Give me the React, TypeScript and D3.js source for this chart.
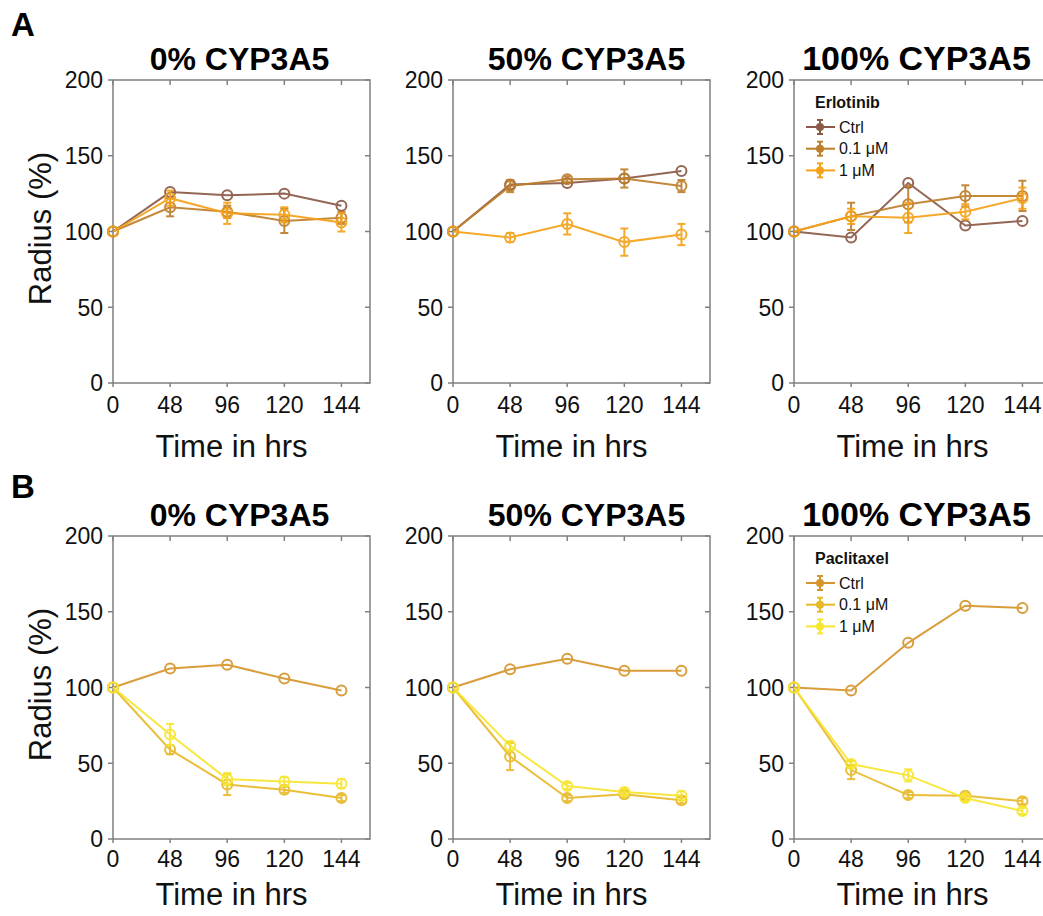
import * as d3 from "d3";

const timeLabels = ["0", "48", "96", "120", "144"];
const yTicks = [0, 50, 100, 150, 200];
const cypLabels = ["0% CYP3A5", "50% CYP3A5", "100% CYP3A5"];
const doseLabels = ["Ctrl", "0.1 μM", "1 μM"];

const erloColors = ["#8c5a46", "#be7e2a", "#f5a21a"];
const pacliColors = ["#d6952c", "#e8ba2a", "#f7e62e"];

// Erlotinib (row A): one array per CYP3A5 level, rows = Ctrl, 0.1, 1
const erlo0 = [
  [100, 126, 124, 125, 117],
  [100, 116, 113, 107, 109],
  [100, 122, 112, 111, 106],
];
const erlo0Err = [
  [0, 1, 1, 1, 1.5],
  [0, 6, 4, 8, 4],
  [0, 5, 7, 5, 6],
];
const erlo50 = [
  [100, 131, 132, 135, 140],
  [100, 130, 134.5, 135, 130],
  [100, 96, 105, 93, 98],
];
const erlo50Err = [
  [0, 1, 1, 1, 1],
  [0, 4, 2, 6, 4],
  [0, 3, 7, 9, 7],
];
const erlo100 = [
  [100, 96, 132, 104, 107],
  [100, 110, 118, 123.5, 123.5],
  [100, 110, 109, 113, 122],
];
const erlo100Err = [
  [0, 1, 1, 1, 1],
  [0, 9, 12, 7, 10],
  [0, 5, 10, 5, 7],
];

// Paclitaxel (row B)
const pacli0 = [
  [100, 112.5, 115, 106, 98],
  [100, 59, 36, 32.5, 27],
  [100, 69, 39.5, 38, 36.5],
];
const pacli0Err = [
  [0, 1, 1, 1, 1],
  [0, 3, 7, 2, 2],
  [0, 7, 4, 3, 3],
];
const pacli50 = [
  [100, 112, 119, 111, 111],
  [100, 54.5, 27, 29.5, 25.5],
  [100, 61.5, 35, 31, 28.5],
];
const pacli50Err = [
  [0, 1, 1, 1, 1],
  [0, 9, 2, 2, 2],
  [0, 3, 2, 2, 3],
];
const pacli100 = [
  [100, 98, 129.5, 154, 152.5],
  [100, 45.5, 29, 28.5, 25],
  [100, 49.5, 42, 27, 18.5],
];
const pacli100Err = [
  [0, 1, 1, 1, 1],
  [0, 6, 2, 2, 2],
  [0, 2, 4, 2, 2],
];

const FONT = "'Liberation Sans', Arial, sans-serif";
const AXIS = "#808080";
const PANEL_W = 257;
const PANEL_H = 303;
const LEFTS = [113, 453, 794];
const TOPS = [80, 536];
const TITLE_SHIFT = [-2, 5, -6];
const TITLE_SIZE = [32, 32, 34];
const TICK_OFF = [30, 28];
const XLABEL_OFF = [74, 66];

const xScale = d3
  .scalePoint<string>()
  .domain(timeLabels)
  .range([0, PANEL_W * (4 / 4.5)]);
const yScale = d3.scaleLinear().domain([0, 200]).range([PANEL_H, 0]);

type PanelProps = {
  left: number;
  top: number;
  col: number;
  row: number;
  title: string;
  values: number[][];
  errs: number[][];
  colors: string[];
  legendTitle?: string;
};

const Panel = ({ left, top, col, row, title, values, errs, colors, legendTitle }: PanelProps) => {
  const line = d3
    .line<number>()
    .x((_, i) => xScale(timeLabels[i]) ?? 0)
    .y((d) => yScale(d));

  return (
    <g transform={`translate(${left}, ${top})`}>
      {/* frame */}
      <rect x={0} y={0} width={PANEL_W} height={PANEL_H} fill="none" stroke={AXIS} strokeWidth={1.5} />
      {yTicks.map((t) => (
        <g key={t}>
          <line x1={-5} x2={0} y1={yScale(t)} y2={yScale(t)} stroke={AXIS} strokeWidth={1.5} />
          <line x1={PANEL_W - 5} x2={PANEL_W} y1={yScale(t)} y2={yScale(t)} stroke={AXIS} strokeWidth={1.5} />
          <text x={-10} y={yScale(t)} dy="0.36em" textAnchor="end" fontSize={23} fontFamily={FONT} fill="#111">
            {t}
          </text>
        </g>
      ))}
      {timeLabels.map((l) => (
        <g key={l}>
          <line x1={xScale(l)} x2={xScale(l)} y1={0} y2={5} stroke={AXIS} strokeWidth={1.5} />
          <line x1={xScale(l)} x2={xScale(l)} y1={PANEL_H} y2={PANEL_H + 4} stroke={AXIS} strokeWidth={1.5} />
          <text
            x={xScale(l)}
            y={PANEL_H + TICK_OFF[row]}
            textAnchor="middle"
            fontSize={23}
            fontFamily={FONT}
            fill="#111"
          >
            {l}
          </text>
        </g>
      ))}
      <text
        x={PANEL_W / 2 + TITLE_SHIFT[col]}
        y={-10}
        textAnchor="middle"
        fontSize={TITLE_SIZE[col]}
        fontWeight="bold"
        fontFamily={FONT}
        fill="#000"
      >
        {title}
      </text>
      <text
        x={PANEL_W / 2 - 10}
        y={PANEL_H + XLABEL_OFF[row]}
        textAnchor="middle"
        fontSize={31}
        fontFamily={FONT}
        fill="#111"
      >
        Time in hrs
      </text>

      {/* series */}
      {values.map((vals, s) => (
        <g key={s} stroke={colors[s]} strokeWidth={2} fill="none" opacity={0.92}>
          <path d={line(vals) ?? ""} />
          {vals.map((v, i) => {
            const x = xScale(timeLabels[i]) ?? 0;
            const e = errs[s][i];
            return (
              <g key={i}>
                {e > 1.5 && (
                  <>
                    <line x1={x} x2={x} y1={yScale(v + e)} y2={yScale(v - e)} />
                    <line x1={x - 4} x2={x + 4} y1={yScale(v + e)} y2={yScale(v + e)} />
                    <line x1={x - 4} x2={x + 4} y1={yScale(v - e)} y2={yScale(v - e)} />
                  </>
                )}
                <circle cx={x} cy={yScale(v)} r={5} />
              </g>
            );
          })}
        </g>
      ))}

      {legendTitle && (
        <g>
          <text x={21} y={28} fontSize={16} fontWeight="bold" fontFamily={FONT} fill="#111">
            {legendTitle}
          </text>
          {doseLabels.map((d, i) => {
            const ly = 47 + i * 21.7;
            return (
              <g key={d}>
                <g stroke={colors[i]} strokeWidth={2}>
                  <line x1={12} x2={41} y1={ly} y2={ly} />
                  <line x1={26} x2={26} y1={ly - 7} y2={ly + 7} />
                  <line x1={23} x2={29} y1={ly - 7} y2={ly - 7} />
                  <line x1={23} x2={29} y1={ly + 7} y2={ly + 7} />
                </g>
                <circle cx={26} cy={ly} r={4} fill={colors[i]} />
                <text x={45} y={ly} dy="0.36em" fontSize={16} fontFamily={FONT} fill="#111">
                  {d}
                </text>
              </g>
            );
          })}
        </g>
      )}
    </g>
  );
};

const App = () => {
  const rowA = [
    [erlo0, erlo0Err],
    [erlo50, erlo50Err],
    [erlo100, erlo100Err],
  ];
  const rowB = [
    [pacli0, pacli0Err],
    [pacli50, pacli50Err],
    [pacli100, pacli100Err],
  ];
  return (
    <svg
      width={1043}
      height={916}
      style={{ position: "absolute", left: 0, top: 0, background: "#fff" }}
    >
      <text x={11} y={36} fontSize={33} fontWeight="bold" fontFamily={FONT}>
        A
      </text>
      <text x={11} y={498} fontSize={33} fontWeight="bold" fontFamily={FONT}>
        B
      </text>
      {TOPS.map((top) => (
        <text
          key={top}
          transform={`translate(51, ${top + PANEL_H / 2 - 3}) rotate(-90)`}
          textAnchor="middle"
          fontSize={31}
          fontFamily={FONT}
          fill="#111"
        >
          Radius (%)
        </text>
      ))}
      {rowA.map(([v, e], i) => (
        <Panel
          key={"a" + i}
          left={LEFTS[i]}
          top={TOPS[0]}
          col={i}
          row={0}
          title={cypLabels[i]}
          values={v}
          errs={e}
          colors={erloColors}
          legendTitle={i === 2 ? "Erlotinib" : undefined}
        />
      ))}
      {rowB.map(([v, e], i) => (
        <Panel
          key={"b" + i}
          left={LEFTS[i]}
          top={TOPS[1]}
          col={i}
          row={1}
          title={cypLabels[i]}
          values={v}
          errs={e}
          colors={pacliColors}
          legendTitle={i === 2 ? "Paclitaxel" : undefined}
        />
      ))}
    </svg>
  );
};

export default App;
